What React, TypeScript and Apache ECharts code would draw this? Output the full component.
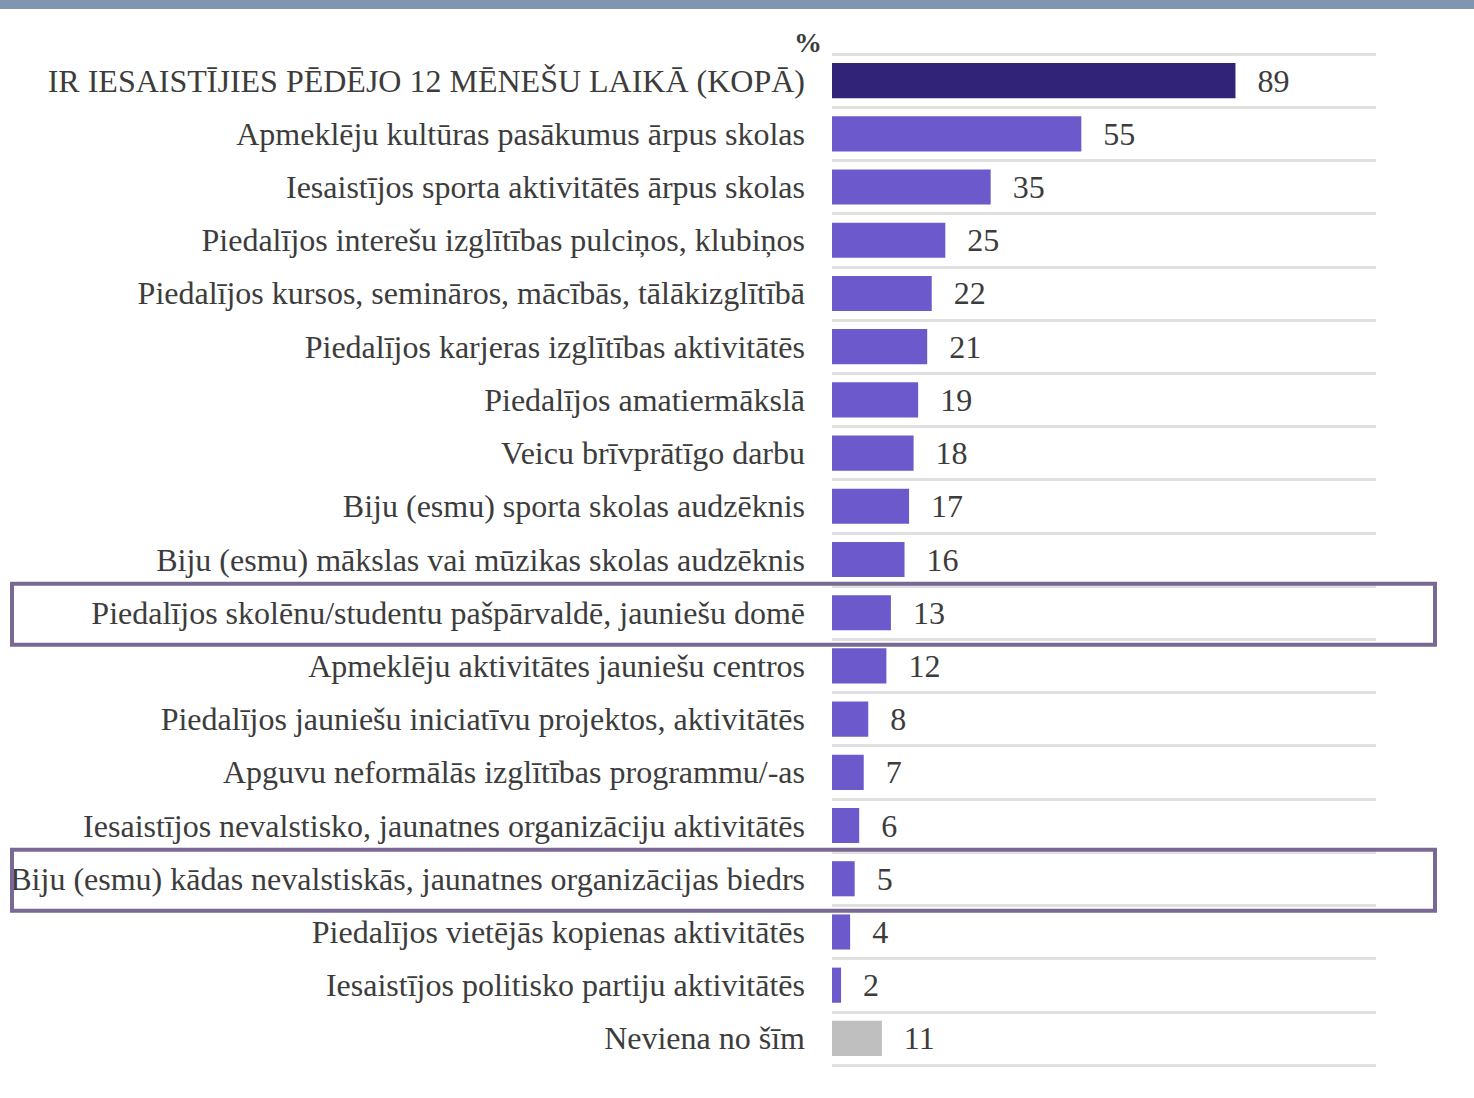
import React, { useEffect, useRef } from "react";
import * as echarts from "echarts";

const categories = [
  "IR IESAISTĪJIES PĒDĒJO 12 MĒNEŠU LAIKĀ (KOPĀ)",
  "Apmeklēju kultūras pasākumus ārpus skolas",
  "Iesaistījos sporta aktivitātēs ārpus skolas",
  "Piedalījos interešu izglītības pulciņos, klubiņos",
  "Piedalījos kursos, semināros, mācībās, tālākizglītībā",
  "Piedalījos karjeras izglītības aktivitātēs",
  "Piedalījos amatiermākslā",
  "Veicu brīvprātīgo darbu",
  "Biju (esmu) sporta skolas audzēknis",
  "Biju (esmu) mākslas vai mūzikas skolas audzēknis",
  "Piedalījos skolēnu/studentu pašpārvaldē, jauniešu domē",
  "Apmeklēju aktivitātes jauniešu centros",
  "Piedalījos jauniešu iniciatīvu projektos, aktivitātēs",
  "Apguvu neformālās izglītības programmu/-as",
  "Iesaistījos nevalstisko, jaunatnes organizāciju aktivitātēs",
  "Biju (esmu) kādas nevalstiskās, jaunatnes organizācijas biedrs",
  "Piedalījos vietējās kopienas aktivitātēs",
  "Iesaistījos politisko partiju aktivitātēs",
  "Neviena no šīm",
];

const values = [89, 55, 35, 25, 22, 21, 19, 18, 17, 16, 13, 12, 8, 7, 6, 5, 4, 2, 11];

const highlighted = [10, 15];

const unitLabel = "%";

const TOTAL_COLOR = "#312478";
const BAR_COLOR = "#6c5acd";
const NONE_COLOR = "#bfbfbf";
const TEXT_COLOR = "#3c3c3c";
const FONT = "Liberation Serif";

export default function App() {
  const ref = useRef<HTMLDivElement>(null);

  useEffect(() => {
    if (!ref.current) return;
    const chart = echarts.init(ref.current, undefined, { renderer: "svg" });

    const gridTop = 54;
    const gridBottom = 33;
    const H = 1098;
    const rowH = (H - gridTop - gridBottom) / categories.length;

    const boxes = highlighted.map((i) => {
      const cy = gridTop + rowH * (i + 0.5) + 1;
      return {
        type: "rect",
        shape: { x: 12, y: cy - 30, width: 1423, height: 61 },
        style: { fill: "none", stroke: "#7a6894", lineWidth: 4 },
        z: 100,
      };
    });

    chart.setOption({
      animation: false,
      backgroundColor: "#ffffff",
      grid: { left: 832, right: 98, top: gridTop, bottom: gridBottom, containLabel: false },
      xAxis: {
        type: "value",
        min: 0,
        max: 120,
        show: false,
      },
      yAxis: {
        type: "category",
        inverse: true,
        data: categories,
        axisLine: { show: false },
        axisTick: { show: false },
        splitLine: {
          show: true,
          interval: 0,
          lineStyle: { color: "#e0e0e0", width: 3 },
        },
        axisLabel: {
          interval: 0,
          margin: 27,
          fontFamily: FONT,
          fontSize: 32,
          color: TEXT_COLOR,
        },
      },
      series: [
        {
          type: "bar",
          data: values.map((v, i) => ({
            value: v,
            itemStyle: {
              color: i === 0 ? TOTAL_COLOR : i === values.length - 1 ? NONE_COLOR : BAR_COLOR,
            },
          })),
          barWidth: "66%",
          label: {
            show: true,
            position: "right",
            distance: 22,
            fontFamily: FONT,
            fontSize: 32,
            color: TEXT_COLOR,
          },
        },
      ],
      graphic: [
        {
          type: "rect",
          shape: { x: 0, y: 0, width: 1474, height: 9 },
          style: { fill: "#8096b0" },
        },
        {
          type: "text",
          x: 822,
          y: 42,
          style: {
            text: unitLabel,
            fontFamily: FONT,
            fontSize: 28,
            fontWeight: "bold",
            fill: TEXT_COLOR,
            align: "right",
            verticalAlign: "middle",
          },
        },
        ...boxes,
      ],
    });

    return () => chart.dispose();
  }, []);

  return <div ref={ref} style={{ position: "fixed", left: 0, top: 0, width: 1474, height: 1098 }} />;
}
